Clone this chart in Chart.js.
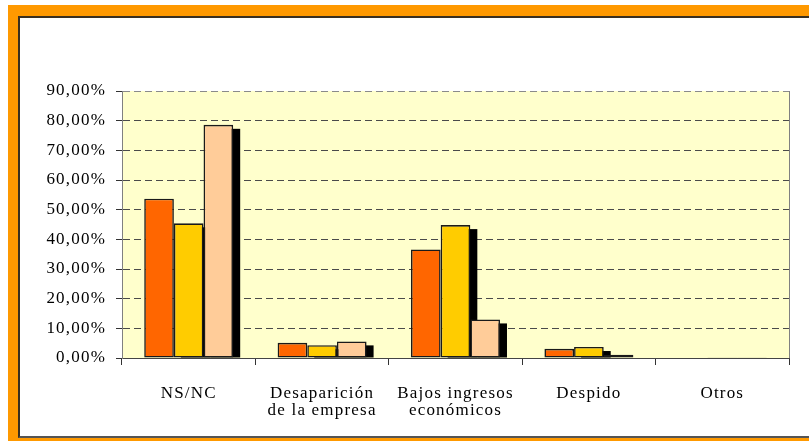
<!DOCTYPE html>
<html lang="es">

<head>
  <meta charset="UTF-8">
  <title>Motivos</title>
  <style>
    body { margin: 0; background: #fff; overflow: hidden; }
    #marco { position: absolute; left: 8px; top: 5px; width: 900px; height: 436px; background: #FF9900; }
    #fondo { position: absolute; left: 10px; top: 11px; width: 900px; height: 422px; box-sizing: border-box;
      background: #fff; border-top: 2px solid #3a3020; border-left: 2px solid #3a3020; border-bottom: 2px solid #555; }
    #grafico { position: absolute; left: 0; top: 0; z-index: 1; }
  </style>
</head>

<body>
  <div id="marco"><div id="fondo"></div></div>
  <canvas id="grafico" width="809" height="441"></canvas>

  <script src="https://cdn.jsdelivr.net/npm/chart.js@4/dist/chart.umd.min.js"></script>
  <script>
    // datos (en %)
    const categorias = ["NS/NC", ["Desaparición", "de la empresa"], ["Bajos ingresos", "económicos"], "Despido", "Otros"];
    const serie1 = [53.7, 5.1, 36.6, 3.1, 0.2];
    const serie2 = [45.4, 4.3, 44.8, 3.7, 0.1];
    const serie3 = [78.6, 5.6, 13.0, 1.1, 0.1];
    const etiquetasY = ["0,00%", "10,00%", "20,00%", "30,00%", "40,00%", "50,00%", "60,00%", "70,00%", "80,00%", "90,00%"];

    const fuente = { family: "'Liberation Serif', 'Times New Roman', serif", size: 17, lineHeight: 1.0 };

    // espaciado de letras como en el original
    const espaciado = {
      id: "espaciado",
      beforeLayout(chart) { chart.ctx.letterSpacing = "1.2px"; },
      beforeDraw(chart) { chart.ctx.letterSpacing = "1.2px"; }
    };

    // fondo amarillo del area de trazado
    const fondoArea = {
      id: "fondoArea",
      beforeDraw(chart) {
        const { ctx, chartArea: a } = chart;
        ctx.save();
        ctx.fillStyle = "#FFFFCC";
        ctx.fillRect(a.left, a.top, a.right - a.left, a.bottom - a.top);
        ctx.restore();
      }
    };

    // sombra negra detras de las barras (series 2 y 3)
    const sombra = {
      id: "sombra",
      beforeDatasetsDraw(chart) {
        const { ctx, chartArea: a } = chart;
        ctx.save();
        ctx.strokeStyle = "#808080";
        ctx.lineWidth = 1;
        ctx.beginPath();
        ctx.moveTo(a.right + 0.5, a.top);
        ctx.lineTo(a.right + 0.5, a.bottom);
        ctx.stroke();
        ctx.fillStyle = "#000";
        [1, 2].forEach(i => {
          chart.getDatasetMeta(i).data.forEach(bar => {
            const { x, y, base, width } = bar.getProps(["x", "y", "base", "width"], true);
            const top = Math.min(y + 4, base);
            ctx.fillRect(x - width / 2 + 7, top, width, base - top);
          });
        });
        ctx.restore();
      }
    };

    const ctx = document.getElementById("grafico").getContext("2d");
    new Chart(ctx, {
      type: "bar",
      data: {
        labels: categorias,
        datasets: [
          { label: "Serie 1", data: serie1, backgroundColor: "#FF6600" },
          { label: "Serie 2", data: serie2, backgroundColor: "#FFCC00" },
          { label: "Serie 3", data: serie3, backgroundColor: "#FFCC99" }
        ]
      },
      options: {
        responsive: false,
        devicePixelRatio: 1,
        animation: false,
        layout: { padding: { top: 91, right: 20, left: 0, bottom: 0 } },
        datasets: {
          bar: {
            categoryPercentage: 0.667,
            barPercentage: 1.0,
            borderColor: "#1a1a1a",
            borderWidth: 1.6,
            borderSkipped: false
          }
        },
        plugins: {
          legend: { display: false },
          tooltip: { enabled: false }
        },
        scales: {
          x: {
            afterFit: s => { s.height = 83; },
            grid: { offset: true, drawOnChartArea: false, tickLength: 7, color: "#333" },
            border: { color: "#444", width: 1 },
            ticks: { color: "#000", font: fuente, padding: 20, maxRotation: 0, autoSkip: false }
          },
          y: {
            min: 0,
            max: 90,
            afterFit: s => { s.width = 122; },
            grid: {
              color: c => c.index === 9 ? "#8a8a8a" : "#4a4a4a",
              tickColor: "#333",
              tickLength: 6,
              tickBorderDash: []
            },
            border: { color: "#808080", width: 1, dash: [7, 4] },
            ticks: {
              stepSize: 10,
              color: "#000",
              font: fuente,
              padding: 10,
              callback: (v, i) => etiquetasY[i]
            }
          }
        }
      },
      plugins: [espaciado, fondoArea, sombra]
    });
  </script>
</body>

</html>
